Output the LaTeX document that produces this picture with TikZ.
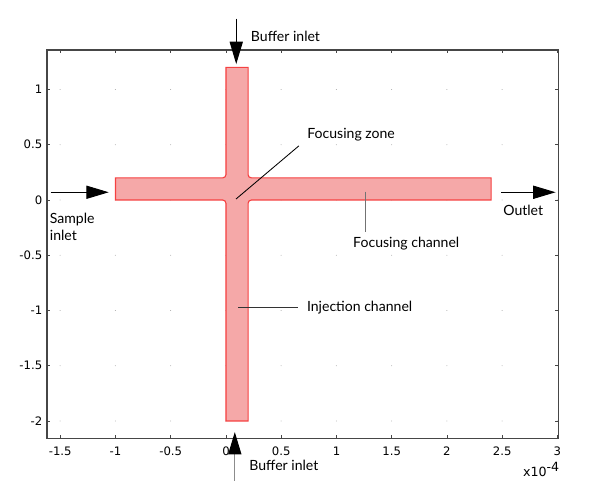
\documentclass[tikz,border=0pt]{standalone}
\usepackage{fontspec}
\setmainfont{Lato}
\newfontfamily\tickfont{DejaVu Sans}
\usetikzlibrary{arrows.meta}
\definecolor{chanfill}{RGB}{245,168,168}
\definecolor{chanedge}{RGB}{245,65,65}
\definecolor{frame}{RGB}{70,70,70}

\begin{document}
\begin{tikzpicture}[x=2.7625cm,y=2.7625cm,
  lbl/.style={font=\fontsize{10}{12.5}\selectfont, inner sep=0pt, anchor=base west},
  ticklbl/.style={font=\tickfont\fontsize{8.3}{10}\selectfont, inner sep=0pt},
  bigarrow/.style={-{Triangle[length=5.6mm,width=3.3mm,color=black]}, line width=0.7pt},
  leader/.style={line width=0.6pt}]
\useasboundingbox (-2.045,-2.615) rectangle (3.385,1.810);
% grid dots and ticks
\foreach \x in {-1.5,-1,...,3}
  \foreach \y in {-2,-1.5,...,1}
    \fill[black!35] (\x,\y) circle (0.35pt);
\foreach \x in {-1.5,-1,...,3} {
  \draw[frame, line width=0.5pt] (\x,-2.158) -- ++(0,0.03);
  \draw[frame, line width=0.5pt] (\x,1.357) -- ++(0,-0.03);
}
\foreach \y in {-2,-1.5,...,1} {
  \draw[frame, line width=0.5pt] (-1.62,\y) -- ++(0.03,0);
  \draw[frame, line width=0.5pt] (3.01,\y) -- ++(-0.03,0);
}
\draw[frame, line width=0.8pt] (-1.62,-2.158) rectangle (3.01,1.357);
% tick labels
\foreach \x [count=\i] in {-1.5,-1,-0.5,0,0.5,1,1.5,2,2.5,3}
  \node[ticklbl, anchor=base] (xt\i) at (\x,-2.308) {\x};
\foreach \y [count=\i] in {-2,-1.5,-1,-0.5,0,0.5,1}
  \node[ticklbl, anchor=east] (yt\i) at (-1.66,\y) {\y};
\node[ticklbl, font=\tickfont\fontsize{9}{10}\selectfont, anchor=base east] (xscale) at (3.025,-2.505) {x10\textsuperscript{\fontsize{9}{10}\selectfont-4}};
% the channels
\draw[fill=chanfill, draw=chanedge, line width=0.8pt]
  (-1,0) -- (-0.03,0) arc[start angle=90, end angle=0, radius=0.03]
  -- (0,-2) -- (0.2,-2) -- (0.2,-0.03) arc[start angle=180, end angle=90, radius=0.03]
  -- (2.4,0) -- (2.4,0.2) -- (0.23,0.2) arc[start angle=270, end angle=180, radius=0.03]
  -- (0.2,1.2) -- (0,1.2) -- (0,0.23) arc[start angle=0, end angle=-90, radius=0.03]
  -- (-1,0.2) -- cycle;
% inlets and outlet
\coordinate (bufTopTail) at (0.093,1.641);
\coordinate (bufTopTip) at (0.093,1.23);
\coordinate (bufBotTail) at (0.08,-2.54);
\coordinate (bufBotTip) at (0.08,-2.10);
\coordinate (sampleTail) at (-1.587,0.07);
\coordinate (sampleTip) at (-1.061,0.07);
\coordinate (outTail) at (2.493,0.07);
\coordinate (outTip) at (2.983,0.07);
\draw[bigarrow] (bufTopTail) -- (bufTopTip);
\draw[bigarrow, black!45] (bufBotTail) -- (bufBotTip);
\draw[bigarrow] (sampleTail) -- (sampleTip);
\draw[bigarrow] (outTail) -- (outTip);
\node[lbl] (bufTop) at (0.224,1.430) {Buffer inlet};
\node[lbl] (bufBot) at (0.209,-2.448) {Buffer inlet};
\node[lbl, anchor=north west, align=left] (sample) at (-1.596,-0.115) {Sample\\inlet};
\node[lbl] (outlet) at (2.508,-0.136) {Outlet};
% labels with leader lines
\node[lbl] (zone) at (0.734,0.559) {Focusing zone};
\node[lbl] (focChan) at (1.149,-0.432) {Focusing channel};
\node[lbl] (injChan) at (0.731,-1.013) {Injection channel};
\coordinate (zoneA) at (0.091,0.009);
\coordinate (zoneB) at (0.66,0.49);
\coordinate (focA) at (1.26,0.075);
\coordinate (focB) at (1.26,-0.287);
\coordinate (injA) at (0.112,-0.973);
\coordinate (injB) at (0.65,-0.973);
\draw[leader] (zoneA) -- (zoneB);
\draw[leader, black!55] (focA) -- (focB);
\draw[leader, black!80] (injA) -- (injB);
\end{tikzpicture}
\end{document}
